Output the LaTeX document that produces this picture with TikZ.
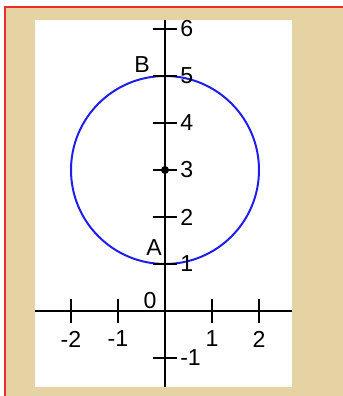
\documentclass[tikz,border=0pt]{standalone}
\usepackage{fontspec}
\setmainfont{Liberation Sans}
\usetikzlibrary{positioning}
\definecolor{parchment}{RGB}{229,211,164}
\definecolor{framered}{RGB}{236,45,45}
\definecolor{circleblue}{RGB}{30,30,235}

\begin{document}
\begin{tikzpicture}[
  font=\fontsize{14}{16}\selectfont,
  axis/.style={line width=1.3pt, draw=black},
  tickmark/.style={line width=1.3pt, draw=black},
  ylabel/.style={inner sep=0.5pt},
  xlabel/.style={inner sep=0.5pt},
  ptlabel/.style={inner sep=0.5pt}
]

\useasboundingbox (-3.511,-1.809) rectangle (3.787,6.617);
\fill[white] (-3.511,-1.809) rectangle (3.787,6.617);
\fill[parchment] (-3.404,-1.809) rectangle (3.787,6.468);
\draw[framered, line width=0.9pt] (-3.404,-1.809) -- (-3.404,6.468) -- (3.787,6.468);
\fill[white] (-2.766,-1.617) rectangle (2.702,6.191);

\coordinate (O) at (0,0);
\coordinate (C) at (0,3);

\draw[circleblue, line width=1.2pt] (C) circle (2);

\draw[axis] (-2.766,0) -- (2.702,0);
\draw[axis] (0,-1.617) -- (0,6.191);

\coordinate (tx-2) at (-2,0);
\coordinate (tx-1) at (-1,0);
\coordinate (tx1) at (1,0);
\coordinate (tx2) at (2,0);
\coordinate (ty-1) at (0,-1);
\coordinate (ty1) at (0,1);
\coordinate (ty2) at (0,2);
\coordinate (ty3) at (0,3);
\coordinate (ty4) at (0,4);
\coordinate (ty5) at (0,5);
\coordinate (ty6) at (0,6);

\draw[tickmark] ([yshift=-0.255cm]tx-2) -- ([yshift=0.255cm]tx-2);
\draw[tickmark] ([yshift=-0.255cm]tx-1) -- ([yshift=0.255cm]tx-1);
\draw[tickmark] ([yshift=-0.255cm]tx1) -- ([yshift=0.255cm]tx1);
\draw[tickmark] ([yshift=-0.255cm]tx2) -- ([yshift=0.255cm]tx2);

\draw[tickmark] ([xshift=-0.255cm]ty-1) -- ([xshift=0.255cm]ty-1);
\draw[tickmark] ([xshift=-0.255cm]ty1) -- ([xshift=0.255cm]ty1);
\draw[tickmark] ([xshift=-0.255cm]ty2) -- ([xshift=0.255cm]ty2);
\draw[tickmark] ([xshift=-0.255cm]ty3) -- ([xshift=0.255cm]ty3);
\draw[tickmark] ([xshift=-0.255cm]ty4) -- ([xshift=0.255cm]ty4);
\draw[tickmark] ([xshift=-0.255cm]ty5) -- ([xshift=0.255cm]ty5);
\draw[tickmark] ([xshift=-0.255cm]ty6) -- ([xshift=0.255cm]ty6);

\node[xlabel, below=0.40cm of tx-2] (lx-2) {-2};
\node[xlabel, below=0.40cm of tx-1] (lx-1) {-1};
\node[xlabel, below=0.40cm of tx1] (lx1) {1};
\node[xlabel, below=0.40cm of tx2] (lx2) {2};

\node[ylabel, right=0.30cm of ty-1] (ly-1) {-1};
\node[ylabel, right=0.30cm of ty1] (ly1) {1};
\node[ylabel, right=0.30cm of ty2] (ly2) {2};
\node[ylabel, right=0.30cm of ty3] (ly3) {3};
\node[ylabel, right=0.30cm of ty4] (ly4) {4};
\node[ylabel, right=0.30cm of ty5] (ly5) {5};
\node[ylabel, right=0.30cm of ty6] (ly6) {6};

\node[ptlabel] (zero) at (-0.32,0.22) {0};

\fill (C) circle (0.085);

\node[ptlabel] (ptA) at (-0.23,1.36) {A};
\node[ptlabel] (ptB) at (-0.49,5.25) {B};

\end{tikzpicture}
\end{document}
